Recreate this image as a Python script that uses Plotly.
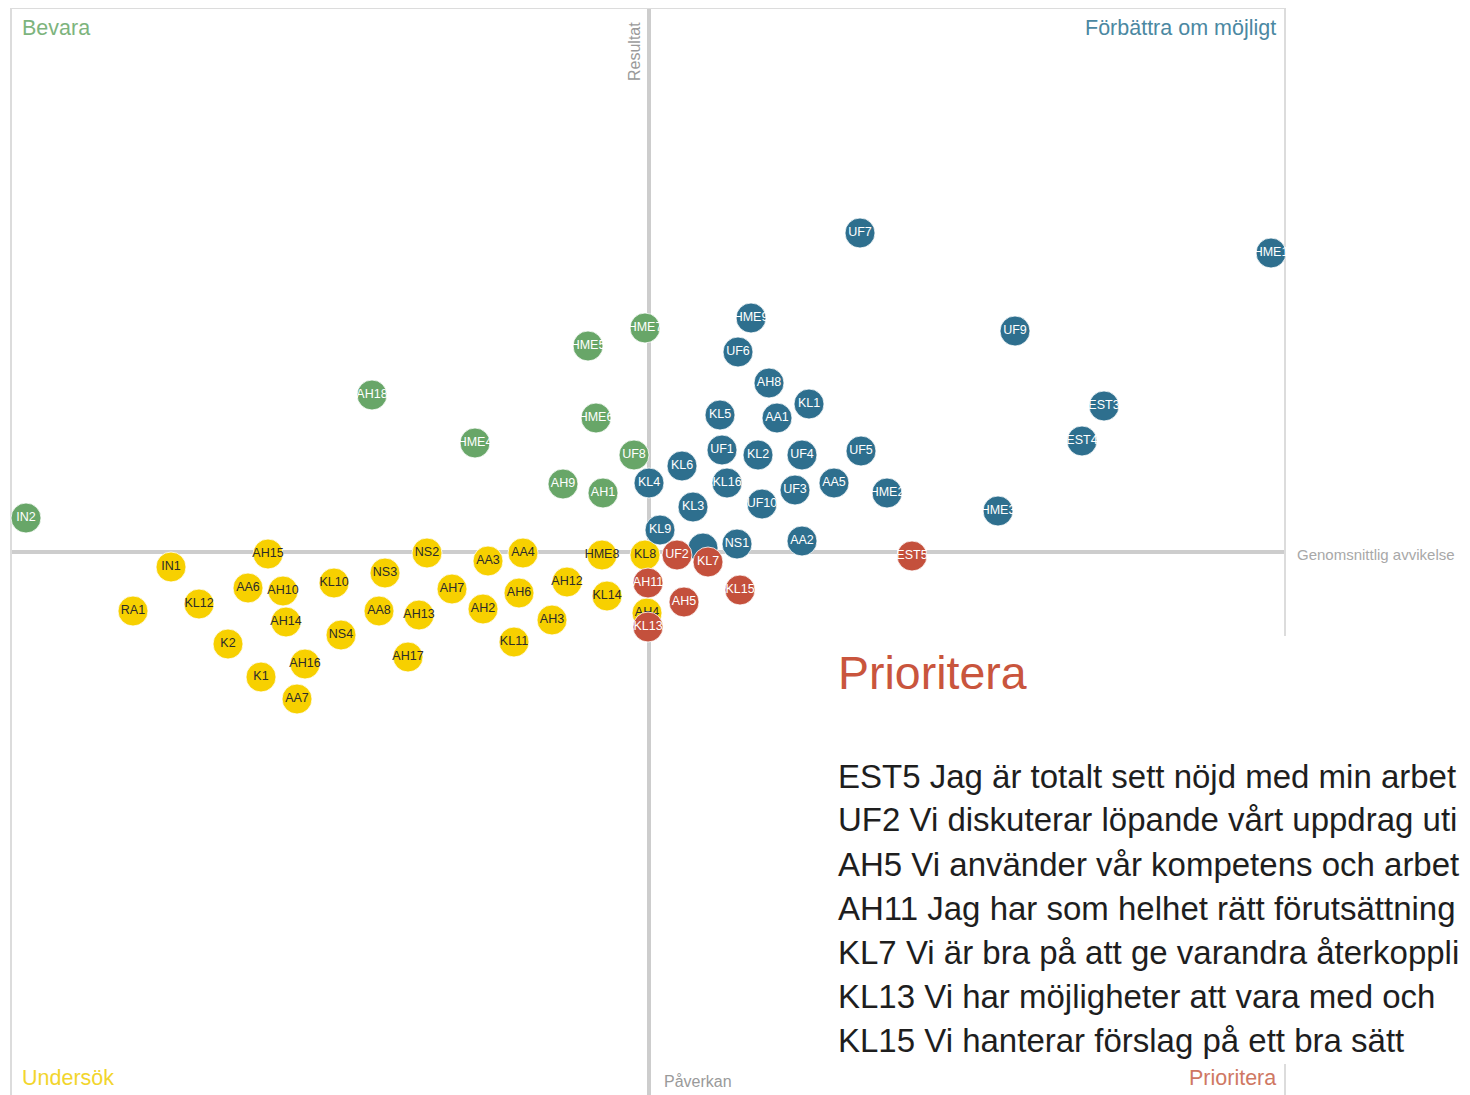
import plotly.graph_objects as go

# ---------------- data (x = Påverkan, y = Resultat, centred on averages) ----------------
green_names = ["IN2", "AH18", "HME4", "HME5", "HME7", "HME6", "UF8", "AH9", "AH1"]
green_x = [-6.23, -2.77, -1.74, -0.61, -0.04, -0.53, -0.15, -0.86, -0.46]
green_y = [0.34, 1.57, 1.09, 2.06, 2.24, 1.34, 0.97, 0.68, 0.59]

teal_names = ["UF7", "HME1", "HME9", "UF6", "UF9", "AH8", "KL1", "KL5", "AA1", "EST3",
              "EST4", "UF1", "KL2", "UF4", "UF5", "KL6", "KL4", "KL16", "AA5", "UF3",
              "HME2", "UF10", "KL3", "HME3", "KL9", "NS1", "AA2", ""]
teal_x = [2.11, 6.22, 1.02, 0.89, 3.66, 1.20, 1.60, 0.71, 1.28, 4.55,
          4.33, 0.73, 1.09, 1.53, 2.12, 0.33, 0.00, 0.78, 1.85, 1.46,
          2.38, 1.13, 0.44, 3.49, 0.11, 0.88, 1.53, 0.54]
teal_y = [3.19, 2.99, 2.34, 2.00, 2.21, 1.69, 1.48, 1.37, 1.34, 1.46,
          1.11, 1.02, 0.97, 0.97, 1.01, 0.86, 0.69, 0.69, 0.69, 0.62,
          0.59, 0.48, 0.45, 0.41, 0.22, 0.08, 0.11, 0.04]

yellow_names = ["IN1", "AH15", "RA1", "KL12", "AA6", "AH10", "AH14", "K2", "K1", "AH16",
                "AA7", "KL10", "NS3", "NS4", "AA8", "AH13", "AH17", "NS2", "AH7", "AA3",
                "AA4", "AH2", "AH6", "KL11", "AH3", "AH12", "HME8", "KL14", "KL8", "AH4"]
yellow_x = [-4.78, -3.81, -5.16, -4.50, -4.01, -3.66, -3.63, -4.21, -3.88, -3.44,
            -3.52, -3.15, -2.64, -3.08, -2.70, -2.30, -2.41, -2.22, -1.97, -1.61,
            -1.26, -1.66, -1.30, -1.35, -0.97, -0.82, -0.47, -0.42, -0.04, -0.02]
yellow_y = [-0.15, -0.02, -0.59, -0.52, -0.36, -0.39, -0.70, -0.92, -1.25, -1.12,
            -1.47, -0.31, -0.21, -0.83, -0.59, -0.63, -1.05, -0.01, -0.37, -0.09,
            -0.01, -0.57, -0.41, -0.90, -0.68, -0.30, -0.03, -0.44, -0.03, -0.61]

red_names = ["EST5", "UF2", "KL7", "AH11", "KL15", "AH5", "KL13"]
red_x = [2.63, 0.28, 0.59, -0.01, 0.91, 0.35, -0.01]
red_y = [-0.04, -0.03, -0.10, -0.31, -0.38, -0.50, -0.75]

quadrant_labels = ["Bevara", "Förbättra om möjligt", "Undersök", "Prioritera"]
axis_x_title = "Påverkan"
axis_y_title = "Resultat"
avg_label = "Genomsnittlig avvikelse"

priority_title = "Prioritera"
# the panel is cut at the right edge of the view in the reference; visible part kept
priority_lines = [
    "EST5 Jag är totalt sett nöjd med min arbet",
    "UF2 Vi diskuterar löpande vårt uppdrag uti",
    "AH5 Vi använder vår kompetens och arbet",
    "AH11 Jag har som helhet rätt förutsättning",
    "KL7 Vi är bra på att ge varandra återkoppli",
    "KL13 Vi har möjligheter att vara med och",
    "KL15 Vi hanterar förslag på ett bra sätt",
]

# ---------------- styling ----------------
FONT = "Liberation Sans, Arial, sans-serif"
GREEN = "#68a668"
TEAL = "#2e6f8e"
YELLOW = "#f7d000"
RED = "#c4503c"

# page has an 8px body margin: figure occupies page x 8..1470, y 8..1095
FIG_W, FIG_H = 1462, 1087
L, R, T, B = 3, 185, 0, 0
PW = FIG_W - L - R
PH = FIG_H - T - B
OFF = 8


def px_x(px):
    return (px - OFF - L) / PW


def px_y(py):
    return (OFF + T + PH - py) / PH


fig = go.Figure()

groups = [
    (yellow_names, yellow_x, yellow_y, YELLOW, "#2b2b2b"),
    (green_names, green_x, green_y, GREEN, "white"),
    (teal_names, teal_x, teal_y, TEAL, "white"),
    (red_names, red_x, red_y, RED, "white"),
]
for names, xs, ys, col, tcol in groups:
    fig.add_trace(go.Scatter(
        x=xs, y=ys, text=names, mode="markers+text",
        textposition="middle center",
        textfont=dict(family=FONT, size=12.5, color=tcol),
        marker=dict(size=30, color=col, line=dict(color="rgba(255,255,255,0.8)", width=1)),
        hoverinfo="skip", cliponaxis=False, showlegend=False,
    ))

fig.update_xaxes(range=[-6.38, 6.36], visible=False, fixedrange=True)
fig.update_yaxes(range=[-5.43, 5.44], visible=False, fixedrange=True)

shapes = []
# centre lines
shapes.append(dict(type="line", xref="x", yref="paper", x0=0, x1=0, y0=0, y1=1,
                   line=dict(color="#cdcdcd", width=4), layer="below"))
shapes.append(dict(type="line", xref="paper", yref="y", x0=0, x1=1, y0=0, y1=0,
                   line=dict(color="#cdcdcd", width=4), layer="below"))
# plot border (right side interrupted by the text panel)
bc = dict(color="#dcdcdc", width=2)
shapes.append(dict(type="line", xref="paper", yref="paper", x0=0, x1=1, y0=1, y1=1, line=bc, layer="below"))
shapes.append(dict(type="line", xref="paper", yref="paper", x0=0, x1=0, y0=0, y1=1, line=bc, layer="below"))
shapes.append(dict(type="line", xref="paper", yref="paper", x0=1, x1=1, y0=px_y(636), y1=1, line=bc, layer="below"))
shapes.append(dict(type="line", xref="paper", yref="paper", x0=1, x1=1, y0=0, y1=px_y(1064), line=bc, layer="below"))

ann = []


def add_text(text, x, y, size, color, xanchor="left", textangle=0, yanchor="middle"):
    ann.append(dict(text=text, x=px_x(x), y=px_y(y), xref="paper", yref="paper",
                    xanchor=xanchor, yanchor=yanchor, showarrow=False, textangle=textangle,
                    font=dict(family=FONT, size=size, color=color)))


add_text(quadrant_labels[0], 20, 28, 21.5, "#7db47d")
add_text(quadrant_labels[1], 1278, 28, 21.5, "#4b88a2", xanchor="right")
add_text(quadrant_labels[2], 20, 1078, 21.5, "#f2d52c")
add_text(quadrant_labels[3], 1278, 1078, 21.5, "#cf7863", xanchor="right")
add_text(axis_x_title, 662, 1081, 16, "#9a9a9a")
add_text(axis_y_title, 634, 52, 16, "#9a9a9a", xanchor="center", textangle=-90)
add_text(avg_label, 1295, 554, 15, "#a8a8a8")

add_text(priority_title, 836, 673, 46.5, "#c9553d")
for i, line in enumerate(priority_lines):
    add_text(line, 836, 776 + 44 * i, 33, "#1e1e1e")

fig.update_layout(
    width=FIG_W, height=FIG_H,
    margin=dict(l=L, r=R, t=T, b=B, pad=0),
    paper_bgcolor="white", plot_bgcolor="white",
    shapes=shapes, annotations=ann,
    font=dict(family=FONT),
)

fig.write_html("out.html")
